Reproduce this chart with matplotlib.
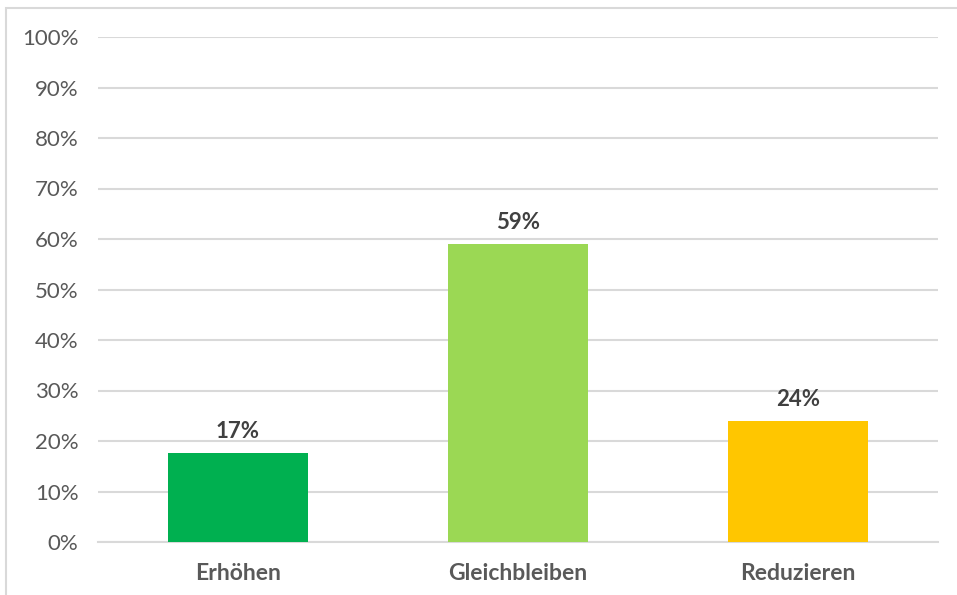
import matplotlib.pyplot as plt
from matplotlib.patches import Rectangle
from matplotlib.ticker import PercentFormatter

# Daten aus dem Diagramm
categories = ['Erhöhen', 'Gleichbleiben', 'Reduzieren']
shares = [0.176, 0.59, 0.24]
value_labels = ['17%', '59%', '24%']
bar_colors = ['#00B050', '#9BD854', '#FFC600']
y_ticks = [i / 10 for i in range(11)]

plt.rcParams['font.family'] = ['Lato', 'DejaVu Sans']

fig = plt.figure(figsize=(9.57, 5.95), dpi=100)
ax = fig.add_axes([98 / 957, 53 / 595, 840 / 957, 505 / 595])

x = range(len(categories))
ax.bar(x, shares, width=0.5, color=bar_colors, zorder=3)

for xi, val, lab in zip(x, shares, value_labels):
    ax.annotate(lab, (xi, val), xytext=(0, 8), textcoords='offset points',
                ha='center', va='bottom', fontsize=16, fontweight='bold',
                color='#404040')

ax.set_xlim(-0.5, len(categories) - 0.5)
ax.set_ylim(0, 1)
ax.set_yticks(y_ticks)
ax.yaxis.set_major_formatter(PercentFormatter(1.0, decimals=0))
ax.set_xticks(list(x))
ax.set_xticklabels(categories, fontsize=16.5, fontweight='bold', color='#595959')
ax.tick_params(axis='y', labelsize=16, labelcolor='#595959', length=0, pad=14)
ax.tick_params(axis='x', length=0, pad=15)

ax.grid(axis='y', color='#D9D9D9', linewidth=1.5, zorder=0)
ax.set_axisbelow(True)
for side in ['top', 'right', 'left']:
    ax.spines[side].set_visible(False)
ax.spines['bottom'].set_color('#D9D9D9')
ax.spines['bottom'].set_linewidth(1.5)

# heller Rahmen oben und links
fig.patches.append(Rectangle((6 / 957, -0.1), 1.1, (595 - 8) / 595 + 0.1,
                             transform=fig.transFigure, fill=False,
                             edgecolor='#D9D9D9', linewidth=1.5))

fig.savefig('out.png', dpi=100)
